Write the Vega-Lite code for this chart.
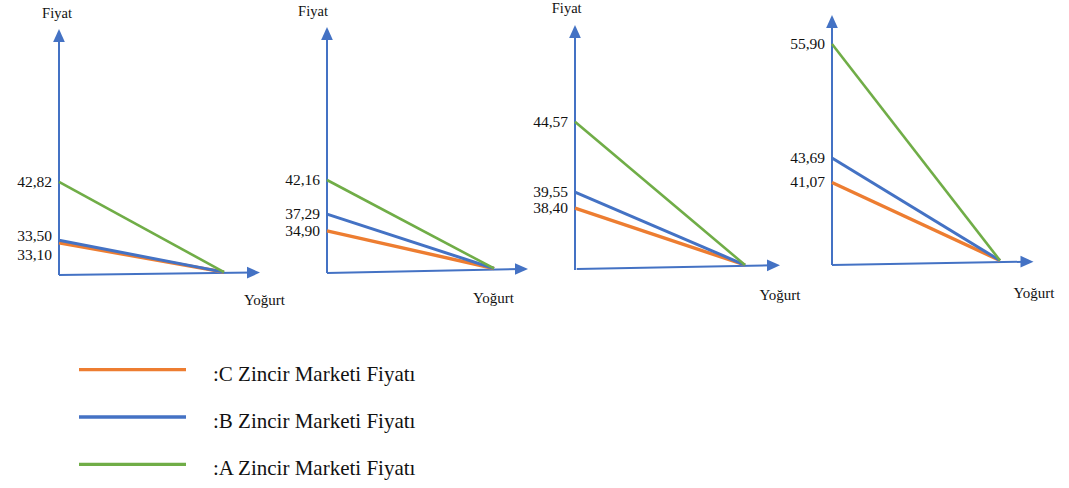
{
"$schema": "https://vega.github.io/schema/vega-lite/v6.json",
"padding": 0,
"background": "white",
"spacing": 26,
"config": {
  "view": {"stroke": null},
  "font": "Liberation Serif",
  "axis": {"disable": true},
  "legend": {"disable": true},
  "locale": {"number": {"decimal": ",", "thousands": ".", "grouping": [3], "currency": ["", " TL"]}}
},
"datasets": {
  "prices": [
    {"panel": 1, "market": "C", "price": 33.10},
    {"panel": 1, "market": "B", "price": 33.50},
    {"panel": 1, "market": "A", "price": 42.82},
    {"panel": 2, "market": "C", "price": 34.90},
    {"panel": 2, "market": "B", "price": 37.29},
    {"panel": 2, "market": "A", "price": 42.16},
    {"panel": 3, "market": "C", "price": 38.40},
    {"panel": 3, "market": "B", "price": 39.55},
    {"panel": 3, "market": "A", "price": 44.57},
    {"panel": 4, "market": "C", "price": 41.07},
    {"panel": 4, "market": "B", "price": 43.69},
    {"panel": 4, "market": "A", "price": 55.90}
  ],
  "panels": [
    {"panel": 1, "yTitle": "Fiyat", "xTitle": "Yoğurt"},
    {"panel": 2, "yTitle": "Fiyat", "xTitle": "Yoğurt"},
    {"panel": 3, "yTitle": "Fiyat", "xTitle": "Yoğurt"},
    {"panel": 4, "yTitle": "", "xTitle": "Yoğurt"}
  ],
  "markets": [
    {"market": "C", "name": ":C Zincir Marketi Fiyatı"},
    {"market": "B", "name": ":B Zincir Marketi Fiyatı"},
    {"market": "A", "name": ":A Zincir Marketi Fiyatı"}
  ]
},
"vconcat": [
  {
    "hconcat": [
      {
        "width": 270, "height": 320,
        "layer": [
          {"data": {"name": "panels"}, "transform": [{"filter": "datum.panel == 1"}],
           "mark": {"type": "rule", "color": "#4472C4", "strokeWidth": 2},
           "encoding": {
             "x": {"datum": 0, "type": "quantitative", "scale": {"domain": [-0.35758, 1.27879], "nice": false, "zero": false}},
             "y": {"datum": 27.979, "type": "quantitative", "scale": {"domain": [20.814, 71.769], "nice": false, "zero": false}},
             "y2": {"datum": 66.116}}},
          {"data": {"name": "panels"}, "transform": [{"filter": "datum.panel == 1"}],
           "mark": {"type": "rule", "color": "#4472C4", "strokeWidth": 2},
           "encoding": {
             "x": {"datum": 0, "type": "quantitative", "scale": {"domain": [-0.35758, 1.27879], "nice": false, "zero": false}},
             "y": {"datum": 27.979, "type": "quantitative", "scale": {"domain": [20.814, 71.769], "nice": false, "zero": false}},
             "x2": {"datum": 1.1788}, "y2": {"datum": 28.36}}},
          {"data": {"name": "panels"}, "transform": [{"filter": "datum.panel == 1"}],
           "mark": {"type": "point", "shape": "M0,-1L-0.9,1L0.9,1Z", "size": 169, "filled": true, "opacity": 1, "color": "#4472C4"},
           "encoding": {
             "x": {"datum": 0, "type": "quantitative", "scale": {"domain": [-0.35758, 1.27879], "nice": false, "zero": false}},
             "y": {"datum": 66.116, "type": "quantitative", "scale": {"domain": [20.814, 71.769], "nice": false, "zero": false}}}},
          {"data": {"name": "panels"}, "transform": [{"filter": "datum.panel == 1"}],
           "mark": {"type": "point", "shape": "M1,0L-1,-0.9L-1,0.9Z", "size": 169, "filled": true, "opacity": 1, "color": "#4472C4"},
           "encoding": {
             "x": {"datum": 1.1788, "type": "quantitative", "scale": {"domain": [-0.35758, 1.27879], "nice": false, "zero": false}},
             "y": {"datum": 28.36, "type": "quantitative", "scale": {"domain": [20.814, 71.769], "nice": false, "zero": false}}}},
          {"data": {"name": "prices"}, "transform": [{"filter": "datum.panel == 1"}],
           "mark": {"type": "rule"},
           "encoding": {
             "x": {"datum": 0, "type": "quantitative", "scale": {"domain": [-0.35758, 1.27879], "nice": false, "zero": false}},
             "y": {"field": "price", "type": "quantitative", "scale": {"domain": [20.814, 71.769], "nice": false, "zero": false}},
             "x2": {"datum": 1}, "y2": {"datum": 28.44},
             "color": {"field": "market", "type": "nominal", "scale": {"domain": ["A", "B", "C"], "range": ["#70AD47", "#4472C4", "#ED7D31"]}},
             "strokeWidth": {"field": "market", "type": "nominal", "scale": {"domain": ["A", "B", "C"], "range": [2.6, 3.4, 3.4]}}}},
          {"data": {"name": "prices"}, "transform": [{"filter": "datum.panel == 1 && datum.market == 'A'"}],
           "mark": {"type": "text", "align": "right", "baseline": "middle", "fontSize": 15.5, "dx": -7, "color": "#111"},
           "encoding": {
             "x": {"datum": 0, "type": "quantitative", "scale": {"domain": [-0.35758, 1.27879], "nice": false, "zero": false}},
             "y": {"field": "price", "type": "quantitative", "scale": {"domain": [20.814, 71.769], "nice": false, "zero": false}},
             "text": {"field": "price", "type": "quantitative", "format": ".2f"}}},
          {"data": {"name": "prices"}, "transform": [{"filter": "datum.panel == 1 && datum.market == 'B'"}],
           "mark": {"type": "text", "align": "right", "baseline": "middle", "fontSize": 15.5, "dx": -7, "dy": -4, "color": "#111"},
           "encoding": {
             "x": {"datum": 0, "type": "quantitative", "scale": {"domain": [-0.35758, 1.27879], "nice": false, "zero": false}},
             "y": {"field": "price", "type": "quantitative", "scale": {"domain": [20.814, 71.769], "nice": false, "zero": false}},
             "text": {"field": "price", "type": "quantitative", "format": ".2f"}}},
          {"data": {"name": "prices"}, "transform": [{"filter": "datum.panel == 1 && datum.market == 'C'"}],
           "mark": {"type": "text", "align": "right", "baseline": "middle", "fontSize": 15.5, "dx": -7, "dy": 12, "color": "#111"},
           "encoding": {
             "x": {"datum": 0, "type": "quantitative", "scale": {"domain": [-0.35758, 1.27879], "nice": false, "zero": false}},
             "y": {"field": "price", "type": "quantitative", "scale": {"domain": [20.814, 71.769], "nice": false, "zero": false}},
             "text": {"field": "price", "type": "quantitative", "format": ".2f"}}},
          {"data": {"name": "panels"}, "transform": [{"filter": "datum.panel == 1"}],
           "mark": {"type": "text", "align": "center", "baseline": "middle", "fontSize": 14.5, "color": "#111"},
           "encoding": {
             "x": {"datum": -0.0121, "type": "quantitative", "scale": {"domain": [-0.35758, 1.27879], "nice": false, "zero": false}},
             "y": {"datum": 69.54, "type": "quantitative", "scale": {"domain": [20.814, 71.769], "nice": false, "zero": false}},
             "text": {"field": "yTitle"}}},
          {"data": {"name": "panels"}, "transform": [{"filter": "datum.panel == 1"}],
           "mark": {"type": "text", "align": "center", "baseline": "middle", "fontSize": 15, "color": "#111"},
           "encoding": {
             "x": {"datum": 1.2455, "type": "quantitative", "scale": {"domain": [-0.35758, 1.27879], "nice": false, "zero": false}},
             "y": {"datum": 24.0, "type": "quantitative", "scale": {"domain": [20.814, 71.769], "nice": false, "zero": false}},
             "text": {"field": "xTitle"}}}
        ]
      },
      {
        "width": 250, "height": 320,
        "layer": [
          {"data": {"name": "panels"}, "transform": [{"filter": "datum.panel == 2"}],
           "mark": {"type": "rule", "color": "#4472C4", "strokeWidth": 2},
           "encoding": {
             "x": {"datum": 0, "type": "quantitative", "scale": {"domain": [-0.34132, 1.15569], "nice": false, "zero": false}},
             "y": {"datum": 28.905, "type": "quantitative", "scale": {"domain": [22.206, 67.815], "nice": false, "zero": false}},
             "y2": {"datum": 63.04}}},
          {"data": {"name": "panels"}, "transform": [{"filter": "datum.panel == 2"}],
           "mark": {"type": "rule", "color": "#4472C4", "strokeWidth": 2},
           "encoding": {
             "x": {"datum": 0, "type": "quantitative", "scale": {"domain": [-0.34132, 1.15569], "nice": false, "zero": false}},
             "y": {"datum": 28.905, "type": "quantitative", "scale": {"domain": [22.206, 67.815], "nice": false, "zero": false}},
             "x2": {"datum": 1.16467}, "y2": {"datum": 29.475}}},
          {"data": {"name": "panels"}, "transform": [{"filter": "datum.panel == 2"}],
           "mark": {"type": "point", "shape": "M0,-1L-0.9,1L0.9,1Z", "size": 169, "filled": true, "opacity": 1, "color": "#4472C4"},
           "encoding": {
             "x": {"datum": 0, "type": "quantitative", "scale": {"domain": [-0.34132, 1.15569], "nice": false, "zero": false}},
             "y": {"datum": 63.04, "type": "quantitative", "scale": {"domain": [22.206, 67.815], "nice": false, "zero": false}}}},
          {"data": {"name": "panels"}, "transform": [{"filter": "datum.panel == 2"}],
           "mark": {"type": "point", "shape": "M1,0L-1,-0.9L-1,0.9Z", "size": 169, "filled": true, "opacity": 1, "color": "#4472C4"},
           "encoding": {
             "x": {"datum": 1.16467, "type": "quantitative", "scale": {"domain": [-0.34132, 1.15569], "nice": false, "zero": false}},
             "y": {"datum": 29.475, "type": "quantitative", "scale": {"domain": [22.206, 67.815], "nice": false, "zero": false}}}},
          {"data": {"name": "prices"}, "transform": [{"filter": "datum.panel == 2"}],
           "mark": {"type": "rule"},
           "encoding": {
             "x": {"datum": 0, "type": "quantitative", "scale": {"domain": [-0.34132, 1.15569], "nice": false, "zero": false}},
             "y": {"field": "price", "type": "quantitative", "scale": {"domain": [22.206, 67.815], "nice": false, "zero": false}},
             "x2": {"datum": 1}, "y2": {"datum": 29.55},
             "color": {"field": "market", "type": "nominal", "scale": {"domain": ["A", "B", "C"], "range": ["#70AD47", "#4472C4", "#ED7D31"]}},
             "strokeWidth": {"field": "market", "type": "nominal", "scale": {"domain": ["A", "B", "C"], "range": [2.6, 3.4, 3.4]}}}},
          {"data": {"name": "prices"}, "transform": [{"filter": "datum.panel == 2"}],
           "mark": {"type": "text", "align": "right", "baseline": "middle", "fontSize": 15.5, "dx": -7, "color": "#111"},
           "encoding": {
             "x": {"datum": 0, "type": "quantitative", "scale": {"domain": [-0.34132, 1.15569], "nice": false, "zero": false}},
             "y": {"field": "price", "type": "quantitative", "scale": {"domain": [22.206, 67.815], "nice": false, "zero": false}},
             "text": {"field": "price", "type": "quantitative", "format": ".2f"}}},
          {"data": {"name": "panels"}, "transform": [{"filter": "datum.panel == 2"}],
           "mark": {"type": "text", "align": "center", "baseline": "middle", "fontSize": 14.5, "color": "#111"},
           "encoding": {
             "x": {"datum": -0.0838, "type": "quantitative", "scale": {"domain": [-0.34132, 1.15569], "nice": false, "zero": false}},
             "y": {"datum": 66.105, "type": "quantitative", "scale": {"domain": [22.206, 67.815], "nice": false, "zero": false}},
             "text": {"field": "yTitle"}}},
          {"data": {"name": "panels"}, "transform": [{"filter": "datum.panel == 2"}],
           "mark": {"type": "text", "align": "center", "baseline": "middle", "fontSize": 15, "color": "#111"},
           "encoding": {
             "x": {"datum": 0.997, "type": "quantitative", "scale": {"domain": [-0.34132, 1.15569], "nice": false, "zero": false}},
             "y": {"datum": 25.34, "type": "quantitative", "scale": {"domain": [22.206, 67.815], "nice": false, "zero": false}},
             "text": {"field": "xTitle"}}}
        ]
      },
      {
        "width": 280, "height": 320,
        "layer": [
          {"data": {"name": "panels"}, "transform": [{"filter": "datum.panel == 3"}],
           "mark": {"type": "rule", "color": "#4472C4", "strokeWidth": 2},
           "encoding": {
             "x": {"datum": 0, "type": "quantitative", "scale": {"domain": [-0.32353, 1.32353], "nice": false, "zero": false}},
             "y": {"datum": 33.977, "type": "quantitative", "scale": {"domain": [30.403, 53.276], "nice": false, "zero": false}},
             "y2": {"datum": 51.025}}},
          {"data": {"name": "panels"}, "transform": [{"filter": "datum.panel == 3"}],
           "mark": {"type": "rule", "color": "#4472C4", "strokeWidth": 2},
           "encoding": {
             "x": {"datum": 0.01, "type": "quantitative", "scale": {"domain": [-0.32353, 1.32353], "nice": false, "zero": false}},
             "y": {"datum": 34.048, "type": "quantitative", "scale": {"domain": [30.403, 53.276], "nice": false, "zero": false}},
             "x2": {"datum": 1.16765}, "y2": {"datum": 34.313}}},
          {"data": {"name": "panels"}, "transform": [{"filter": "datum.panel == 3"}],
           "mark": {"type": "point", "shape": "M0,-1L-0.9,1L0.9,1Z", "size": 169, "filled": true, "opacity": 1, "color": "#4472C4"},
           "encoding": {
             "x": {"datum": 0, "type": "quantitative", "scale": {"domain": [-0.32353, 1.32353], "nice": false, "zero": false}},
             "y": {"datum": 51.025, "type": "quantitative", "scale": {"domain": [30.403, 53.276], "nice": false, "zero": false}}}},
          {"data": {"name": "panels"}, "transform": [{"filter": "datum.panel == 3"}],
           "mark": {"type": "point", "shape": "M1,0L-1,-0.9L-1,0.9Z", "size": 169, "filled": true, "opacity": 1, "color": "#4472C4"},
           "encoding": {
             "x": {"datum": 1.16765, "type": "quantitative", "scale": {"domain": [-0.32353, 1.32353], "nice": false, "zero": false}},
             "y": {"datum": 34.313, "type": "quantitative", "scale": {"domain": [30.403, 53.276], "nice": false, "zero": false}}}},
          {"data": {"name": "prices"}, "transform": [{"filter": "datum.panel == 3"}],
           "mark": {"type": "rule"},
           "encoding": {
             "x": {"datum": 0, "type": "quantitative", "scale": {"domain": [-0.32353, 1.32353], "nice": false, "zero": false}},
             "y": {"field": "price", "type": "quantitative", "scale": {"domain": [30.403, 53.276], "nice": false, "zero": false}},
             "x2": {"datum": 1}, "y2": {"datum": 34.334},
             "color": {"field": "market", "type": "nominal", "scale": {"domain": ["A", "B", "C"], "range": ["#70AD47", "#4472C4", "#ED7D31"]}},
             "strokeWidth": {"field": "market", "type": "nominal", "scale": {"domain": ["A", "B", "C"], "range": [2.6, 3.4, 3.4]}}}},
          {"data": {"name": "prices"}, "transform": [{"filter": "datum.panel == 3"}],
           "mark": {"type": "text", "align": "right", "baseline": "middle", "fontSize": 15.5, "dx": -7, "color": "#111"},
           "encoding": {
             "x": {"datum": 0, "type": "quantitative", "scale": {"domain": [-0.32353, 1.32353], "nice": false, "zero": false}},
             "y": {"field": "price", "type": "quantitative", "scale": {"domain": [30.403, 53.276], "nice": false, "zero": false}},
             "text": {"field": "price", "type": "quantitative", "format": ".2f"}}},
          {"data": {"name": "panels"}, "transform": [{"filter": "datum.panel == 3"}],
           "mark": {"type": "text", "align": "center", "baseline": "middle", "fontSize": 14.5, "color": "#111"},
           "encoding": {
             "x": {"datum": -0.0488, "type": "quantitative", "scale": {"domain": [-0.32353, 1.32353], "nice": false, "zero": false}},
             "y": {"datum": 52.61, "type": "quantitative", "scale": {"domain": [30.403, 53.276], "nice": false, "zero": false}},
             "text": {"field": "yTitle"}}},
          {"data": {"name": "panels"}, "transform": [{"filter": "datum.panel == 3"}],
           "mark": {"type": "text", "align": "center", "baseline": "middle", "fontSize": 15, "color": "#111"},
           "encoding": {
             "x": {"datum": 1.2059, "type": "quantitative", "scale": {"domain": [-0.32353, 1.32353], "nice": false, "zero": false}},
             "y": {"datum": 32.19, "type": "quantitative", "scale": {"domain": [30.403, 53.276], "nice": false, "zero": false}},
             "text": {"field": "xTitle"}}}
        ]
      },
      {
        "width": 269, "height": 320,
        "layer": [
          {"data": {"name": "panels"}, "transform": [{"filter": "datum.panel == 4"}],
           "mark": {"type": "rule", "color": "#4472C4", "strokeWidth": 2},
           "encoding": {
             "x": {"datum": 0, "type": "quantitative", "scale": {"domain": [-0.19048, 1.41071], "nice": false, "zero": false}},
             "y": {"datum": 32.228, "type": "quantitative", "scale": {"domain": [26.337, 60.613], "nice": false, "zero": false}},
             "y2": {"datum": 58.31}}},
          {"data": {"name": "panels"}, "transform": [{"filter": "datum.panel == 4"}],
           "mark": {"type": "rule", "color": "#4472C4", "strokeWidth": 2},
           "encoding": {
             "x": {"datum": 0, "type": "quantitative", "scale": {"domain": [-0.19048, 1.41071], "nice": false, "zero": false}},
             "y": {"datum": 32.228, "type": "quantitative", "scale": {"domain": [26.337, 60.613], "nice": false, "zero": false}},
             "x2": {"datum": 1.16071}, "y2": {"datum": 32.582}}},
          {"data": {"name": "panels"}, "transform": [{"filter": "datum.panel == 4"}],
           "mark": {"type": "point", "shape": "M0,-1L-0.9,1L0.9,1Z", "size": 169, "filled": true, "opacity": 1, "color": "#4472C4"},
           "encoding": {
             "x": {"datum": 0, "type": "quantitative", "scale": {"domain": [-0.19048, 1.41071], "nice": false, "zero": false}},
             "y": {"datum": 58.31, "type": "quantitative", "scale": {"domain": [26.337, 60.613], "nice": false, "zero": false}}}},
          {"data": {"name": "panels"}, "transform": [{"filter": "datum.panel == 4"}],
           "mark": {"type": "point", "shape": "M1,0L-1,-0.9L-1,0.9Z", "size": 169, "filled": true, "opacity": 1, "color": "#4472C4"},
           "encoding": {
             "x": {"datum": 1.16071, "type": "quantitative", "scale": {"domain": [-0.19048, 1.41071], "nice": false, "zero": false}},
             "y": {"datum": 32.582, "type": "quantitative", "scale": {"domain": [26.337, 60.613], "nice": false, "zero": false}}}},
          {"data": {"name": "prices"}, "transform": [{"filter": "datum.panel == 4"}],
           "mark": {"type": "rule"},
           "encoding": {
             "x": {"datum": 0, "type": "quantitative", "scale": {"domain": [-0.19048, 1.41071], "nice": false, "zero": false}},
             "y": {"field": "price", "type": "quantitative", "scale": {"domain": [26.337, 60.613], "nice": false, "zero": false}},
             "x2": {"datum": 1}, "y2": {"datum": 32.71},
             "color": {"field": "market", "type": "nominal", "scale": {"domain": ["A", "B", "C"], "range": ["#70AD47", "#4472C4", "#ED7D31"]}},
             "strokeWidth": {"field": "market", "type": "nominal", "scale": {"domain": ["A", "B", "C"], "range": [2.6, 3.4, 3.4]}}}},
          {"data": {"name": "prices"}, "transform": [{"filter": "datum.panel == 4"}],
           "mark": {"type": "text", "align": "right", "baseline": "middle", "fontSize": 15.5, "dx": -7, "color": "#111"},
           "encoding": {
             "x": {"datum": 0, "type": "quantitative", "scale": {"domain": [-0.19048, 1.41071], "nice": false, "zero": false}},
             "y": {"field": "price", "type": "quantitative", "scale": {"domain": [26.337, 60.613], "nice": false, "zero": false}},
             "text": {"field": "price", "type": "quantitative", "format": ".2f"}}},
          {"data": {"name": "panels"}, "transform": [{"filter": "datum.panel == 4"}],
           "mark": {"type": "text", "align": "center", "baseline": "middle", "fontSize": 15, "color": "#111"},
           "encoding": {
             "x": {"datum": 1.2024, "type": "quantitative", "scale": {"domain": [-0.19048, 1.41071], "nice": false, "zero": false}},
             "y": {"datum": 29.20, "type": "quantitative", "scale": {"domain": [26.337, 60.613], "nice": false, "zero": false}},
             "text": {"field": "xTitle"}}}
        ]
      }
    ],
    "spacing": 0,
    "bounds": "flush"
  },
  {
    "width": 420, "height": 142,
    "data": {"name": "markets"},
    "layer": [
      {"mark": {"type": "rule", "strokeWidth": 3.3},
       "encoding": {
         "x": {"datum": 79, "type": "quantitative", "scale": {"domain": [0, 420], "nice": false, "zero": false}},
         "x2": {"datum": 186},
         "y": {"field": "market", "type": "nominal", "sort": null, "scale": {"type": "point", "domain": ["C", "B", "A"], "padding": 0.5}},
         "color": {"field": "market", "type": "nominal", "scale": {"domain": ["A", "B", "C"], "range": ["#70AD47", "#4472C4", "#ED7D31"]}}}},
      {"mark": {"type": "text", "align": "left", "baseline": "middle", "fontSize": 21, "dy": 5, "color": "#111"},
       "encoding": {
         "x": {"datum": 213, "type": "quantitative", "scale": {"domain": [0, 420], "nice": false, "zero": false}},
         "y": {"field": "market", "type": "nominal", "sort": null, "scale": {"type": "point", "domain": ["C", "B", "A"], "padding": 0.5}},
         "text": {"field": "name"}}}
    ]
  }
]
}
